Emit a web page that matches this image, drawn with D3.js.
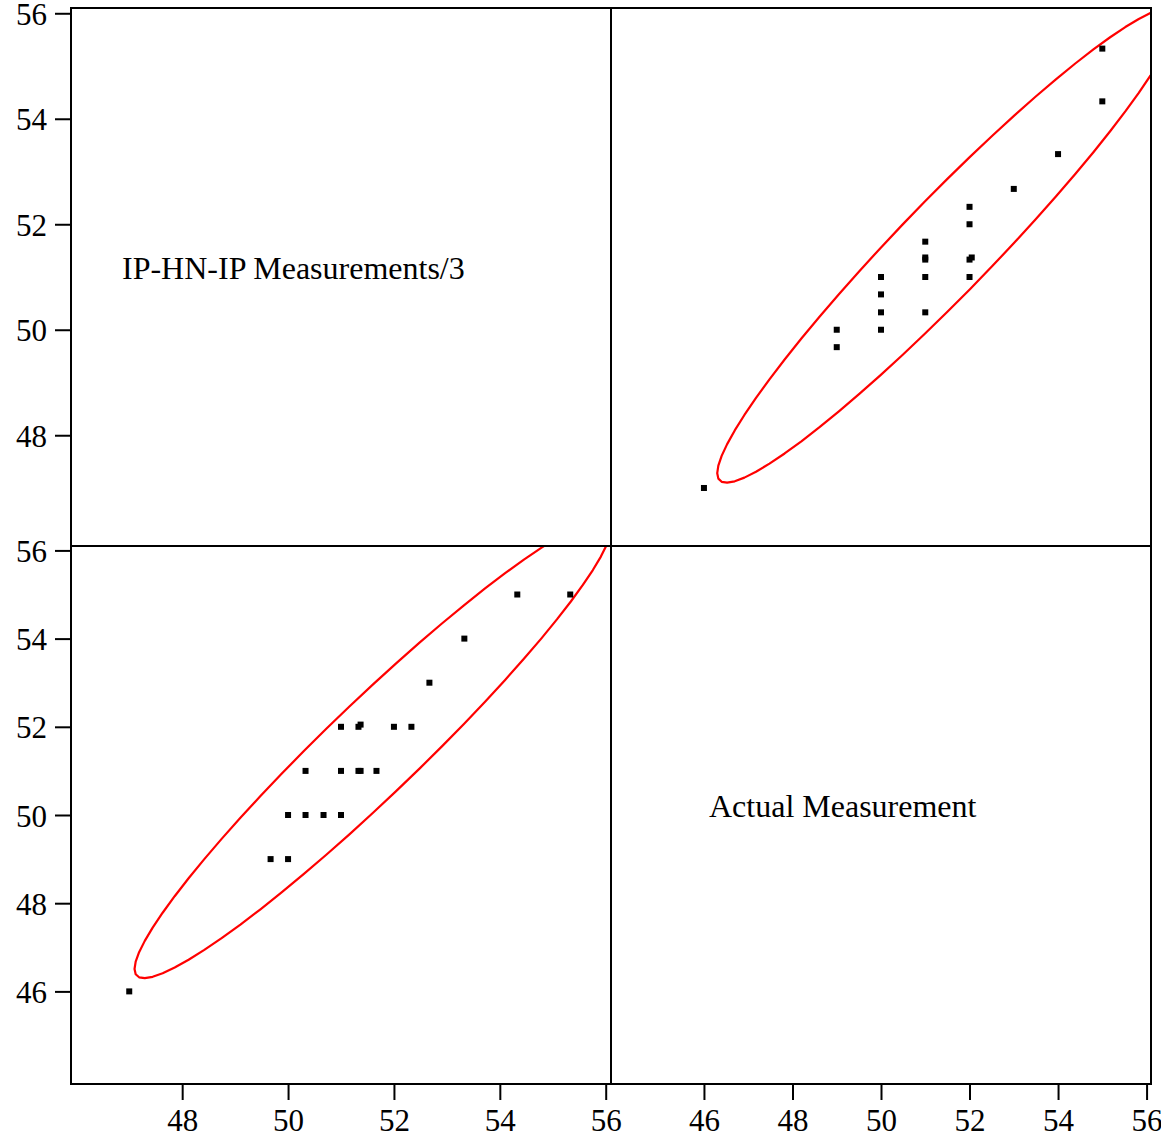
<!DOCTYPE html>
<html>
<head>
<meta charset="utf-8">
<script src="https://cdn.jsdelivr.net/npm/d3@7"></script>
<style>
  html, body { margin: 0; padding: 0; background: #fff; }
  svg { display: block; }
</style>
</head>
<body>
<svg id="chart" width="1161" height="1137"></svg>
<script>
// variables of the scatter matrix
const varNames = ['IP-HN-IP Measurements/3', 'Actual Measurement'];

// observations (paired)
const ipValues = [47, 49.67, 50, 50, 50.33, 50.67, 51, 50.33, 51, 51.33, 51.37, 51.67,
  51, 51.33, 51.37, 52, 52.33, 52.67, 53.33, 54.33, 55.33];
const actualValues = [46, 49, 49, 50, 50, 50, 50, 51, 51, 51, 51, 51,
  52, 52, 52.05, 52, 52, 53, 54, 55, 55];

// axis domains and ticks per variable
const ipDomain = [45.9, 56.1];
const actualDomain = [43.9, 56.1];
const ipTicks = [48, 50, 52, 54, 56];
const actualTicks = [46, 48, 50, 52, 54, 56];

// red ellipse: centre, half extent per variable, correlation
const ellipseCenter = [51.6, 51.5];
const ellipseHalfRange = [4.5, 5.2];
const ellipseCorr = 0.96;

const vars = [
  { name: varNames[0], values: ipValues, domain: ipDomain, ticks: ipTicks },
  { name: varNames[1], values: actualValues, domain: actualDomain, ticks: actualTicks }
];

// layout
const margin_left = 71, margin_top = 8;
const cell_w = 540, cell_h = 538;
const tick_font = 31, label_font = 32;
const font = '"Liberation Serif", "Times New Roman", serif';
// diagonal label placement (left edge offset from panel left)
const label_dx = [51, 98];

const svg = d3.select('#chart');

const x_scales = vars.map((v, j) => d3.scaleLinear()
  .domain(v.domain)
  .range([margin_left + j * cell_w, margin_left + (j + 1) * cell_w]));
const y_scales = vars.map((v, i) => d3.scaleLinear()
  .domain(v.domain)
  .range([margin_top + (i + 1) * cell_h, margin_top + i * cell_h]));

// ellipse outline for variable pair (xi on x, yi on y)
function ellipse_points(xi, yi) {
  const r = ellipseCorr;
  const s = Math.sqrt(1 - r * r);
  const steps = 64;
  return d3.range(steps + 1).map(k => {
    const t = (k / steps) * 2 * Math.PI;
    return [
      ellipseCenter[xi] + ellipseHalfRange[xi] * Math.cos(t),
      ellipseCenter[yi] + ellipseHalfRange[yi] * (r * Math.cos(t) + s * Math.sin(t))
    ];
  });
}

const defs = svg.append('defs');

vars.forEach((vy, i) => {
  vars.forEach((vx, j) => {
    const x0 = margin_left + j * cell_w, y0 = margin_top + i * cell_h;
    const g = svg.append('g').attr('class', `cell cell-${i}-${j}`);

    if (i === j) {
      g.append('text')
        .attr('x', x0 + label_dx[i])
        .attr('y', y0 + cell_h / 2 + 2)
        .attr('font-family', font)
        .attr('font-size', label_font)
        .attr('fill', '#000')
        .text(vx.name);
      return;
    }

    const clip_id = `clip-${i}-${j}`;
    defs.append('clipPath').attr('id', clip_id)
      .append('rect')
      .attr('x', x0).attr('y', y0)
      .attr('width', cell_w).attr('height', cell_h);

    const xs = x_scales[j], ys = y_scales[i];
    const pts = vx.values.map((v, k) => [v, vy.values[k]]);

    const line = d3.line().x(d => xs(d[0])).y(d => ys(d[1]));
    g.append('path')
      .attr('clip-path', `url(#${clip_id})`)
      .attr('d', line(ellipse_points(j, i)))
      .attr('fill', 'none')
      .attr('stroke', '#ff0000')
      .attr('stroke-width', 2.2)
      .attr('stroke-linejoin', 'round');

    g.append('g')
      .selectAll('rect')
      .data(pts)
      .enter()
      .append('rect')
      .attr('x', d => xs(d[0]) - 3)
      .attr('y', d => ys(d[1]) - 3)
      .attr('width', 6)
      .attr('height', 6)
      .attr('fill', '#000');
  });
});

// frame and dividers
const frame = svg.append('g').attr('stroke', '#000').attr('stroke-width', 2).attr('fill', 'none');
frame.append('rect')
  .attr('x', margin_left).attr('y', margin_top)
  .attr('width', cell_w * 2).attr('height', cell_h * 2);
frame.append('line')
  .attr('x1', margin_left + cell_w).attr('x2', margin_left + cell_w)
  .attr('y1', margin_top).attr('y2', margin_top + 2 * cell_h);
frame.append('line')
  .attr('x1', margin_left).attr('x2', margin_left + 2 * cell_w)
  .attr('y1', margin_top + cell_h).attr('y2', margin_top + cell_h);

// axes: left for each row, bottom for each column
function style_axis(sel) {
  sel.select('.domain').remove();
  sel.selectAll('.tick line').attr('stroke', '#000').attr('stroke-width', 2);
  sel.selectAll('.tick text')
    .attr('font-family', font)
    .attr('font-size', tick_font)
    .attr('fill', '#000');
}

vars.forEach((v, i) => {
  const ax = svg.append('g')
    .attr('transform', `translate(${margin_left},0)`)
    .call(d3.axisLeft(y_scales[i]).tickValues(v.ticks).tickSize(16).tickPadding(8).tickFormat(d3.format('d')));
  style_axis(ax);
  ax.selectAll('.tick text').attr('dy', '0.36em');
});

vars.forEach((v, j) => {
  const ax = svg.append('g')
    .attr('transform', `translate(0,${margin_top + 2 * cell_h})`)
    .call(d3.axisBottom(x_scales[j]).tickValues(v.ticks).tickSize(16).tickPadding(9).tickFormat(d3.format('d')));
  style_axis(ax);
});
</script>
</body>
</html>
